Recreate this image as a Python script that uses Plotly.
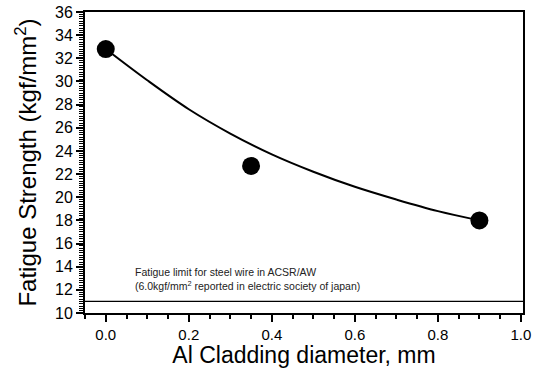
import plotly.graph_objects as go

# measured data points
cladding_mm = [0.0, 0.35, 0.9]
fatigue_strength = [32.8, 22.7, 18.0]

# fitted trend curve
curve_x = [0.0, 0.1, 0.2, 0.3, 0.4, 0.5, 0.6, 0.7, 0.8, 0.9]
curve_y = [32.8, 30.1, 27.6, 25.5, 23.7, 22.2, 20.9, 19.8, 18.8, 18.0]

# fatigue limit for steel wire
limit_x = [-0.05, 1.005]
limit_y = [11.0, 11.0]

fig = go.Figure()
fig.add_trace(go.Scatter(x=curve_x, y=curve_y, mode="lines",
                         line=dict(color="black", width=2, shape="spline", smoothing=1.0),
                         showlegend=False, hoverinfo="skip"))
fig.add_trace(go.Scatter(x=limit_x, y=limit_y, mode="lines",
                         line=dict(color="black", width=1.2),
                         showlegend=False, hoverinfo="skip"))
fig.add_trace(go.Scatter(x=cladding_mm, y=fatigue_strength, mode="markers",
                         marker=dict(color="black", size=18),
                         showlegend=False))

fig.add_annotation(x=0.065, y=13.5, xref="x", yref="y", xanchor="left",
                   text="Fatigue limit for steel wire in ACSR/AW",
                   showarrow=False, font=dict(size=10.5, color="#222", family="Liberation Sans"))
fig.add_annotation(x=0.065, y=12.35, xref="x", yref="y", xanchor="left",
                   text="(6.0kgf/mm<sup>2</sup> reported in electric society of japan)",
                   showarrow=False, font=dict(size=10.5, color="#222", family="Liberation Sans"))

fig.update_layout(
    width=534, height=368,
    margin=dict(l=85, r=11, t=12, b=55),
    paper_bgcolor="white", plot_bgcolor="white",
    font=dict(family="Liberation Sans, Arial, sans-serif", color="black"),
)
fig.update_xaxes(
    automargin=False,
    range=[-0.05, 1.005], tickvals=[0.0, 0.2, 0.4, 0.6, 0.8, 1.0],
    ticktext=["0.0", "0.2", "0.4", "0.6", "0.8", "1.0"],
    showgrid=False, zeroline=False, showline=True, linecolor="black", linewidth=2,
    mirror=True, ticks="outside", ticklen=7, tickwidth=2, tickcolor="black",
    tickfont=dict(size=15),
    minor=dict(dtick=0.05, tick0=0, ticks="outside", ticklen=4, tickwidth=1.5, tickcolor="black"),
    title=dict(text="Al Cladding diameter, mm", font=dict(size=23), standoff=6),
)
fig.update_yaxes(
    automargin=False,
    range=[10, 36], tickvals=list(range(10, 37, 2)),
    showgrid=False, zeroline=False, showline=True, linecolor="black", linewidth=2,
    mirror=True, ticks="outside", ticklen=7, tickwidth=2, tickcolor="black",
    tickfont=dict(size=16),
    minor=dict(dtick=0.2, tick0=10, ticks="outside", ticklen=4, tickwidth=1, tickcolor="black"),
    title=dict(text="Fatigue Strength (kgf/mm<sup>2</sup>)", font=dict(size=24), standoff=12),
)

fig.write_html(
    "out.html",
    config={"displayModeBar": False},
    post_script="document.body.style.margin='0px';document.documentElement.style.overflow='hidden';",
)
